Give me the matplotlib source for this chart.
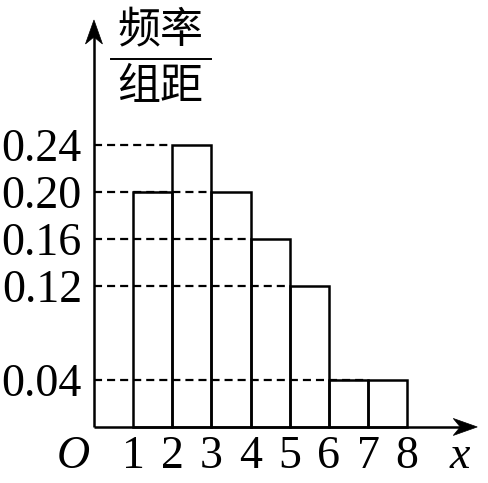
import matplotlib
matplotlib.use("Agg")
import matplotlib.pyplot as plt
from matplotlib.patches import Polygon
from matplotlib.transforms import ScaledTranslation

# data
bin_lefts = [1, 2, 3, 4, 5, 6, 7]
bin_width = 1
heights = [0.20, 0.24, 0.20, 0.16, 0.12, 0.04, 0.04]
ytick_values = [0.24, 0.20, 0.16, 0.12, 0.04]
ytick_labels = ["0.24", "0.20", "0.16", "0.12", "0.04"]
xtick_values = [1, 2, 3, 4, 5, 6, 7, 8]
xtick_labels = ["1", "2", "3", "4", "5", "6", "7", "8"]
ylabel_top = "频率"
ylabel_bottom = "组距"

plt.rcParams['lines.scale_dashes'] = False
serif = ['Liberation Serif', 'DejaVu Serif']
cjk = ['Noto Sans CJK SC', 'DejaVu Sans']

DPI = 100
fig = plt.figure(figsize=(4.89, 4.83), dpi=DPI)
ax = fig.add_axes([0, 0, 1, 1])
ax.set_xlim(-2.40, 10.09)
ax.set_ylim(-0.0477, 0.3634)
ax.axis('off')

LW = 1.8
# bars
ax.bar(bin_lefts, heights, width=bin_width, align='edge', fill=False,
       edgecolor='black', linewidth=LW, zorder=3)

# dashed guide lines
for h in ytick_values:
    ends = [l for l, v in zip(bin_lefts, heights) if abs(v - h) < 1e-9]
    ax.plot([0, max(ends)], [h, h], color='black', lw=1.6,
            linestyle=(0, (5.8, 3.6)), zorder=2)


def arrow_head(x, y, direction):
    # stealth-like head, sizes in pixels
    L, W, N = 24 / DPI, 8.5 / DPI, 17 / DPI
    if direction == 'right':
        pts = [(0, 0), (-L, W), (-N, 0), (-L, -W)]
    else:
        pts = [(0, 0), (-W, -L), (0, -N), (W, -L)]
    tr = fig.dpi_scale_trans + ScaledTranslation(x, y, ax.transData)
    ax.add_patch(Polygon(pts, closed=True, facecolor='black',
                         edgecolor='black', lw=0.5, transform=tr, zorder=5))


x_end, y_end = 9.79, 0.3464
ax.plot([0, x_end - 0.4], [0, 0], color='black', lw=LW, zorder=4,
        solid_capstyle='butt')
ax.plot([0, 0], [0, y_end - 0.014], color='black', lw=LW, zorder=4,
        solid_capstyle='butt')
arrow_head(x_end, 0, 'right')
arrow_head(0, y_end, 'up')

FS = 33
# y tick labels
for v, s in zip(ytick_values, ytick_labels):
    ax.text(-0.307, v, s, ha='right', va='center_baseline', fontsize=FS,
            family=serif)

# x tick labels
for v, s in zip(xtick_values, xtick_labels):
    ax.text(v, -0.0349, s, ha='center', va='baseline', fontsize=FS,
            family=serif)
ax.text(-0.537, -0.0349, 'O', ha='center', va='baseline', fontsize=FS,
        family=serif, style='italic')
ax.text(9.35, -0.0349, 'x', ha='center', va='baseline', fontsize=FS,
        family=serif, style='italic')

# y label as fraction
ax.text(1.69, 0.3377, ylabel_top, ha='center', va='center', fontsize=31,
        family=cjk)
ax.plot([0.434, 2.99], [0.3132, 0.3132], color='black', lw=1.4)
ax.text(1.69, 0.2892, ylabel_bottom, ha='center', va='center', fontsize=31,
        family=cjk)

fig.savefig('out.png', dpi=DPI)
